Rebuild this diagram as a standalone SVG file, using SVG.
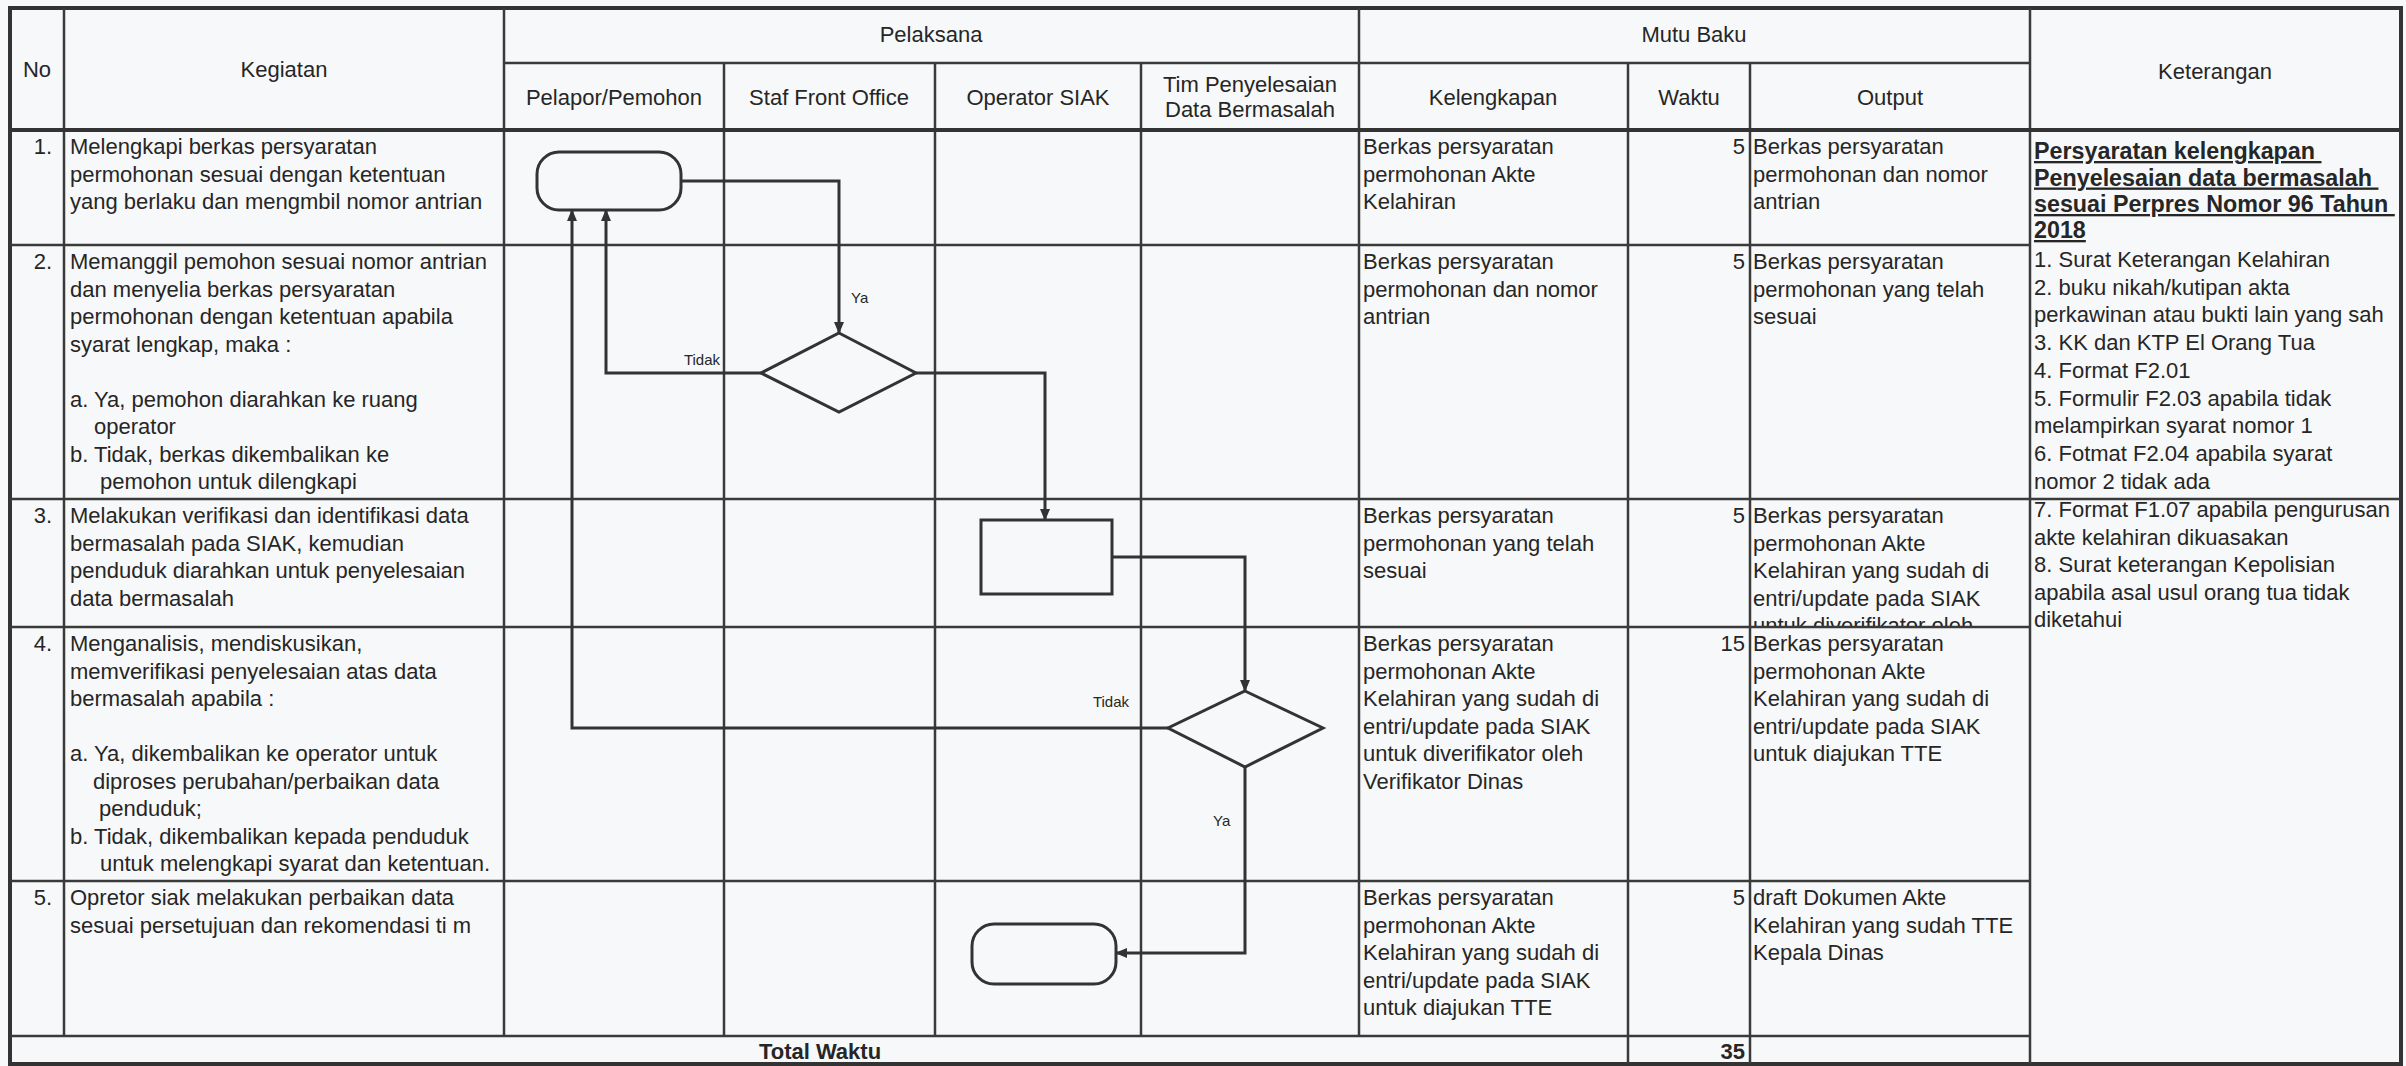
<svg xmlns="http://www.w3.org/2000/svg" width="2406" height="1066" viewBox="0 0 2406 1066">
<style>
.g{stroke:#3a3a3a;stroke-width:2.5;fill:none}
.gb{stroke:#333;stroke-width:4;fill:none}
text{font-family:"Liberation Sans",Arial,sans-serif;fill:#262626}
.t{font-size:22px}
.h{font-size:22px;text-anchor:middle}
.b{font-size:22px;font-weight:bold}
.kb{font-size:23.3px;font-weight:bold;text-decoration:underline;white-space:pre}
.l{font-size:15px}
.s{fill:none;stroke:#333;stroke-width:3}
.c{fill:none;stroke:#333;stroke-width:3}
</style>
<defs>
<marker id="arr" markerUnits="userSpaceOnUse" markerWidth="12" markerHeight="10" refX="11" refY="5" orient="auto">
<path d="M0,0 L12,5 L0,10 z" fill="#333"/>
</marker>
<clipPath id="clipOut3"><rect x="1750" y="500" width="280" height="126"/></clipPath>
</defs>
<rect x="0" y="0" width="2406" height="1066" fill="#f7f8f9"/>

<g id="table">
<rect class="gb" x="10" y="8" width="2391" height="1056"/>
<line class="g" x1="64" y1="8" x2="64" y2="1036"/>
<line class="g" x1="504" y1="8" x2="504" y2="1036"/>
<line class="g" x1="724" y1="63" x2="724" y2="1036"/>
<line class="g" x1="935" y1="63" x2="935" y2="1036"/>
<line class="g" x1="1141" y1="63" x2="1141" y2="1036"/>
<line class="g" x1="1359" y1="8" x2="1359" y2="1036"/>
<line class="g" x1="1628" y1="63" x2="1628" y2="1064"/>
<line class="g" x1="1750" y1="63" x2="1750" y2="1064"/>
<line class="g" x1="2030" y1="8" x2="2030" y2="1064"/>
<line class="g" x1="504" y1="63" x2="2030" y2="63"/>
<line class="gb" x1="10" y1="130" x2="2401" y2="130"/>
<line class="g" x1="10" y1="245" x2="2030" y2="245"/>
<line class="g" x1="10" y1="499" x2="2401" y2="499"/>
<line class="g" x1="10" y1="627" x2="2030" y2="627"/>
<line class="g" x1="10" y1="881" x2="2030" y2="881"/>
<line class="g" x1="10" y1="1036" x2="2030" y2="1036"/>
</g>

<g id="header">
<text class="h" x="37" y="77">No</text>
<text class="h" x="284" y="77">Kegiatan</text>
<text class="h" x="931" y="42">Pelaksana</text>
<text class="h" x="614" y="105">Pelapor/Pemohon</text>
<text class="h" x="829" y="105">Staf Front Office</text>
<text class="h" x="1038" y="105">Operator SIAK</text>
<text class="h" x="1250" y="92">Tim Penyelesaian</text>
<text class="h" x="1250" y="117">Data Bermasalah</text>
<text class="h" x="1694" y="42">Mutu Baku</text>
<text class="h" x="1493" y="105">Kelengkapan</text>
<text class="h" x="1689" y="105">Waktu</text>
<text class="h" x="1890" y="105">Output</text>
<text class="h" x="2215" y="79">Keterangan</text>
</g>

<g id="row1">
<text class="t" x="52" y="154" text-anchor="end">1.</text>
<text class="t" x="70" y="154">Melengkapi berkas persyaratan</text>
<text class="t" x="70" y="181.5">permohonan sesuai dengan ketentuan</text>
<text class="t" x="70" y="209">yang berlaku dan mengmbil nomor antrian</text>
<text class="t" x="1363" y="154">Berkas persyaratan</text>
<text class="t" x="1363" y="181.5">permohonan Akte</text>
<text class="t" x="1363" y="209">Kelahiran</text>
<text class="t" x="1745" y="154" text-anchor="end">5</text>
<text class="t" x="1753" y="154">Berkas persyaratan</text>
<text class="t" x="1753" y="181.5">permohonan dan nomor</text>
<text class="t" x="1753" y="209">antrian</text>
</g>

<g id="row2">
<text class="t" x="52" y="269" text-anchor="end">2.</text>
<text class="t" x="70" y="269">Memanggil pemohon sesuai nomor antrian</text>
<text class="t" x="70" y="296.5">dan menyelia berkas persyaratan</text>
<text class="t" x="70" y="324">permohonan dengan ketentuan apabila</text>
<text class="t" x="70" y="351.5">syarat lengkap, maka :</text>
<text class="t" x="70" y="406.5">a. Ya, pemohon diarahkan ke ruang</text>
<text class="t" x="94" y="434">operator</text>
<text class="t" x="70" y="461.5">b. Tidak, berkas dikembalikan ke</text>
<text class="t" x="100" y="489">pemohon untuk dilengkapi</text>
<text class="t" x="1363" y="269">Berkas persyaratan</text>
<text class="t" x="1363" y="296.5">permohonan dan nomor</text>
<text class="t" x="1363" y="324">antrian</text>
<text class="t" x="1745" y="269" text-anchor="end">5</text>
<text class="t" x="1753" y="269">Berkas persyaratan</text>
<text class="t" x="1753" y="296.5">permohonan yang telah</text>
<text class="t" x="1753" y="324">sesuai</text>
</g>

<g id="row3">
<text class="t" x="52" y="523" text-anchor="end">3.</text>
<text class="t" x="70" y="523">Melakukan verifikasi dan identifikasi data</text>
<text class="t" x="70" y="550.5">bermasalah pada SIAK, kemudian</text>
<text class="t" x="70" y="578">penduduk diarahkan untuk penyelesaian</text>
<text class="t" x="70" y="605.5">data bermasalah</text>
<text class="t" x="1363" y="523">Berkas persyaratan</text>
<text class="t" x="1363" y="550.5">permohonan yang telah</text>
<text class="t" x="1363" y="578">sesuai</text>
<text class="t" x="1745" y="523" text-anchor="end">5</text>
<g clip-path="url(#clipOut3)">
<text class="t" x="1753" y="523">Berkas persyaratan</text>
<text class="t" x="1753" y="550.5">permohonan Akte</text>
<text class="t" x="1753" y="578">Kelahiran yang sudah di</text>
<text class="t" x="1753" y="605.5">entri/update pada SIAK</text>
<text class="t" x="1753" y="633">untuk diverifikator oleh</text>
</g>
</g>

<g id="row4">
<text class="t" x="52" y="651" text-anchor="end">4.</text>
<text class="t" x="70" y="651">Menganalisis, mendiskusikan,</text>
<text class="t" x="70" y="678.5">memverifikasi penyelesaian atas data</text>
<text class="t" x="70" y="706">bermasalah apabila :</text>
<text class="t" x="70" y="761">a. Ya, dikembalikan ke operator untuk</text>
<text class="t" x="93" y="788.5">diproses perubahan/perbaikan data</text>
<text class="t" x="99" y="816">penduduk;</text>
<text class="t" x="70" y="843.5">b. Tidak, dikembalikan kepada penduduk</text>
<text class="t" x="100" y="871">untuk melengkapi syarat dan ketentuan.</text>
<text class="t" x="1363" y="651">Berkas persyaratan</text>
<text class="t" x="1363" y="678.5">permohonan Akte</text>
<text class="t" x="1363" y="706">Kelahiran yang sudah di</text>
<text class="t" x="1363" y="733.5">entri/update pada SIAK</text>
<text class="t" x="1363" y="761">untuk diverifikator oleh</text>
<text class="t" x="1363" y="788.5">Verifikator Dinas</text>
<text class="t" x="1745" y="651" text-anchor="end">15</text>
<text class="t" x="1753" y="651">Berkas persyaratan</text>
<text class="t" x="1753" y="678.5">permohonan Akte</text>
<text class="t" x="1753" y="706">Kelahiran yang sudah di</text>
<text class="t" x="1753" y="733.5">entri/update pada SIAK</text>
<text class="t" x="1753" y="761">untuk diajukan TTE</text>
</g>

<g id="row5">
<text class="t" x="52" y="905" text-anchor="end">5.</text>
<text class="t" x="70" y="905">Opretor siak melakukan perbaikan data</text>
<text class="t" x="70" y="932.5">sesuai persetujuan dan rekomendasi ti m</text>
<text class="t" x="1363" y="905">Berkas persyaratan</text>
<text class="t" x="1363" y="932.5">permohonan Akte</text>
<text class="t" x="1363" y="960">Kelahiran yang sudah di</text>
<text class="t" x="1363" y="987.5">entri/update pada SIAK</text>
<text class="t" x="1363" y="1015">untuk diajukan TTE</text>
<text class="t" x="1745" y="905" text-anchor="end">5</text>
<text class="t" x="1753" y="905">draft Dokumen Akte</text>
<text class="t" x="1753" y="932.5">Kelahiran yang sudah TTE</text>
<text class="t" x="1753" y="960">Kepala Dinas</text>
</g>

<g id="total">
<text class="b" x="820" y="1059" text-anchor="middle">Total Waktu</text>
<text class="b" x="1745" y="1059" text-anchor="end">35</text>
</g>

<g id="keterangan">
<text class="kb" x="2034" y="159">Persyaratan kelengkapan </text>
<text class="kb" x="2034" y="185.5">Penyelesaian data bermasalah </text>
<text class="kb" x="2034" y="212">sesuai Perpres Nomor 96 Tahun </text>
<text class="kb" x="2034" y="238">2018</text>
<text class="t" x="2034" y="267">1. Surat Keterangan Kelahiran</text>
<text class="t" x="2034" y="294.7">2. buku nikah/kutipan akta</text>
<text class="t" x="2034" y="322.4">perkawinan atau bukti lain yang sah</text>
<text class="t" x="2034" y="350.1">3. KK dan KTP El Orang Tua</text>
<text class="t" x="2034" y="377.8">4. Format F2.01</text>
<text class="t" x="2034" y="405.5">5. Formulir F2.03 apabila tidak</text>
<text class="t" x="2034" y="433.2">melampirkan syarat nomor 1</text>
<text class="t" x="2034" y="460.9">6. Fotmat F2.04 apabila syarat</text>
<text class="t" x="2034" y="488.6">nomor 2 tidak ada</text>
<text class="t" x="2034" y="517">7. Format F1.07 apabila pengurusan</text>
<text class="t" x="2034" y="544.5">akte kelahiran dikuasakan</text>
<text class="t" x="2034" y="572">8. Surat keterangan Kepolisian</text>
<text class="t" x="2034" y="599.5">apabila asal usul orang tua tidak</text>
<text class="t" x="2034" y="627">diketahui</text>
</g>

<g id="start"><rect class="s" x="537" y="152" width="144" height="58" rx="22" ry="22"/></g>
<g id="decision1"><polygon class="s" points="839,333 916,373 839,412 761,373"/></g>
<g id="process"><rect class="s" x="981" y="520" width="131" height="74"/></g>
<g id="decision2"><polygon class="s" points="1245,691 1323,728 1245,767 1168,728"/></g>
<g id="end"><rect class="s" x="972" y="924" width="144" height="60" rx="22" ry="22"/></g>

<g id="connectors">
<polyline class="c" points="681,181 839,181 839,333" marker-end="url(#arr)"/>
<polyline class="c" points="761,373 606,373 606,210" marker-end="url(#arr)"/>
<polyline class="c" points="916,373 1045,373 1045,520" marker-end="url(#arr)"/>
<polyline class="c" points="1112,557 1245,557 1245,691" marker-end="url(#arr)"/>
<polyline class="c" points="1168,728 572,728 572,210" marker-end="url(#arr)"/>
<polyline class="c" points="1245,767 1245,953 1116,953" marker-end="url(#arr)"/>
<text class="l" x="851" y="303">Ya</text>
<text class="l" x="720" y="365" text-anchor="end">Tidak</text>
<text class="l" x="1129" y="707" text-anchor="end">Tidak</text>
<text class="l" x="1213" y="826">Ya</text>
</g>
</svg>
